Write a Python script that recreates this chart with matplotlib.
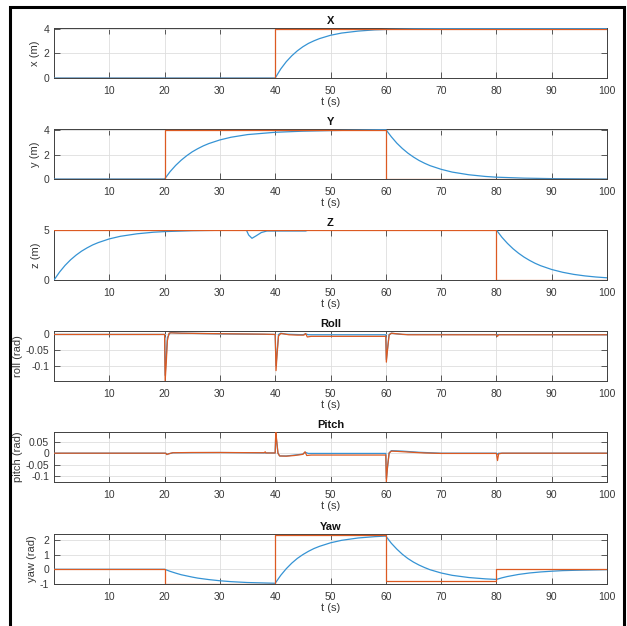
import matplotlib
matplotlib.use('Agg')
import matplotlib.pyplot as plt
import matplotlib.patches as patches

plt.rcParams['font.family'] = ['Liberation Sans', 'DejaVu Sans']

BLUE = '#3593d4'
ORANGE = '#dc5a22'
AX_COLOR = '#404040'

# --- reference (orange, step) signals: breakpoints ---
x_ref_t = [0, 40, 100]
x_ref_v = [0, 4, 4]
y_ref_t = [0, 20, 60, 100]
y_ref_v = [0, 4, 0, 0]
z_ref_t = [0, 80, 100]
z_ref_v = [5, 0, 0]
yaw_ref_t = [0, 20, 40, 60, 80, 100]
yaw_ref_v = [0, -1, 2.356, -0.785, 0, 0]

x_t = [0, 40, 41, 42, 43, 44, 45, 46, 47, 48, 50, 52, 55, 58, 60, 65, 70, 80, 100]
x_v = [0, 0, 0.73, 1.32, 1.80, 2.20, 2.53, 2.80, 3.01, 3.19, 3.46, 3.64, 3.80,
       3.90, 3.93, 3.98, 4.0, 4.01, 4.02]

y_t = [0, 20, 21, 22, 23, 24, 25, 26, 27, 28, 30, 32, 35, 40, 45, 50, 55, 60,
       61, 62, 63, 64, 65, 66, 67, 68, 70, 72, 75, 78, 80, 85, 90, 100]
y_v = [0, 0, 0.61, 1.12, 1.55, 1.92, 2.24, 2.50, 2.73, 2.92, 3.22, 3.44, 3.66,
       3.85, 3.94, 3.99, 4.03, 4.08,
       3.48, 2.95, 2.51, 2.13, 1.81, 1.53, 1.30, 1.10, 0.80, 0.57, 0.35, 0.21,
       0.15, 0.07, 0.03, 0.0]

z_t = [0, 1, 2, 3, 4, 5, 6, 7, 8, 10, 12, 15, 18, 20, 25, 30, 34.8, 35.2, 35.8,
       36.5, 37.5, 38.5, 45.5, 46, 80, 81, 82, 83, 84, 85, 86, 87, 88, 90, 92,
       94, 96, 98, 100]
z_v = [0, 0.79, 1.46, 2.02, 2.49, 2.89, 3.22, 3.51, 3.74, 4.11, 4.37, 4.62,
       4.78, 4.84, 4.93, 4.97, 4.98, 4.5, 4.17, 4.4, 4.75, 4.9, 4.9, 5.0, 5.0,
       4.27, 3.66, 3.13, 2.68, 2.29, 1.96, 1.67, 1.43, 1.05, 0.77, 0.56, 0.41,
       0.30, 0.22]

roll_ref_t = [0, 20, 20.1, 20.3, 20.5, 20.8, 21.2, 23, 27, 32, 38, 40, 40.15,
              40.35, 40.6, 41, 41.5, 42.5, 44, 45.2, 45.5, 45.8, 46.5, 60, 60.1,
              60.3, 60.6, 61, 62, 64, 70, 80, 80.2, 80.4, 100]
roll_ref_v = [0, 0, -0.148, -0.09, -0.02, 0.004, 0.005, 0.004, 0.003, 0.002,
              0.001, 0.0, -0.115, -0.06, -0.005, 0.003, 0.002, -0.001, -0.002,
              -0.002, 0.003, -0.008, -0.006, -0.006, -0.088, -0.05, -0.002,
              0.004, 0.002, -0.001, -0.001, -0.001, -0.006, -0.001, -0.001]
roll_t = [0, 20, 20.1, 20.5, 21, 23, 30, 40, 40.15, 40.6, 41, 42, 45, 45.5, 46,
          60, 60.1, 60.6, 61, 63, 100]
roll_v = [0, 0, -0.13, -0.01, 0.006, 0.004, 0.002, 0.0, -0.10, 0.0, 0.004,
          0.001, -0.001, 0.002, -0.001, -0.001, -0.08, 0.0, 0.004, 0.0, -0.001]

pitch_ref_t = [0, 20.2, 20.4, 20.8, 21.5, 25, 30, 38, 38.2, 38.3, 40, 40.1,
               40.25, 40.5, 40.8, 42, 43.5, 45, 45.4, 45.7, 46.5, 60, 60.1,
               60.3, 60.6, 61, 62, 64, 67, 70, 80, 80.2, 80.4, 81, 100]
pitch_ref_v = [0, 0, -0.006, -0.002, 0.002, 0.003, 0.003, 0.002, 0.006, 0.001,
               0.001, 0.092, 0.06, 0.0, -0.012, -0.013, -0.01, -0.005, 0.006,
               -0.01, -0.008, -0.008, -0.125, -0.06, 0.0, 0.009, 0.008, 0.005,
               0.001, -0.001, -0.001, -0.032, -0.003, 0.0, 0.0]
pitch_t = [0, 20.2, 20.4, 21.5, 30, 40, 40.1, 40.5, 40.8, 42, 45, 45.4, 46, 60,
           60.1, 60.6, 61, 63, 66, 70, 80, 80.2, 80.4, 100]
pitch_v = [0, 0, -0.005, 0.002, 0.003, 0.001, 0.085, 0.0, -0.012, -0.012,
           -0.004, 0.004, -0.001, -0.001, -0.11, 0.002, 0.011, 0.009, 0.004,
           0.0, 0.0, -0.005, 0.0, 0.0]

yaw_t = [0, 20, 21, 22, 23, 24, 25, 26, 27, 28, 30, 32, 35, 38, 40,
         41, 42, 43, 44, 45, 46, 47, 48, 50, 52, 55, 58, 60,
         61, 62, 63, 64, 65, 66, 67, 68, 70, 72, 75, 78, 80,
         81, 82, 83, 84, 85, 86, 88, 90, 92, 95, 100]
yaw_v = [0, 0, -0.14, -0.26, -0.37, -0.45, -0.53, -0.60, -0.65, -0.70, -0.78,
         -0.84, -0.90, -0.93, -0.95,
         -0.41, 0.04, 0.42, 0.74, 1.00, 1.22, 1.41, 1.56, 1.80, 1.97, 2.13,
         2.22, 2.26,
         1.77, 1.37, 1.02, 0.73, 0.49, 0.29, 0.12, -0.03, -0.25, -0.41, -0.56,
         -0.65, -0.69,
         -0.58, -0.49, -0.42, -0.35, -0.30, -0.25, -0.18, -0.13, -0.09, -0.06,
         -0.025]

x_ticks = [10, 20, 30, 40, 50, 60, 70, 80, 90, 100]

panels = [
    dict(title='X', ylabel='x (m)', t=x_t, v=x_v, rt=x_ref_t, rv=x_ref_v,
         step=True, ylim=(0, 4.05), yticks=[0, 2, 4], ylabels=['0', '2', '4']),
    dict(title='Y', ylabel='y (m)', t=y_t, v=y_v, rt=y_ref_t, rv=y_ref_v,
         step=True, ylim=(0, 4.12), yticks=[0, 2, 4], ylabels=['0', '2', '4']),
    dict(title='Z', ylabel='z (m)', t=z_t, v=z_v, rt=z_ref_t, rv=z_ref_v,
         step=True, ylim=(0, 5.0), yticks=[0, 5], ylabels=['0', '5']),
    dict(title='Roll', ylabel='roll (rad)', t=roll_t, v=roll_v, rt=roll_ref_t,
         rv=roll_ref_v, step=False, ylim=(-0.148, 0.011),
         yticks=[-0.1, -0.05, 0], ylabels=['-0.1', '-0.05', '0']),
    dict(title='Pitch', ylabel='pitch (rad)', t=pitch_t, v=pitch_v,
         rt=pitch_ref_t, rv=pitch_ref_v, step=False, ylim=(-0.125, 0.092),
         yticks=[-0.1, -0.05, 0, 0.05], ylabels=['-0.1', '-0.05', '0', '0.05']),
    dict(title='Yaw', ylabel='yaw (rad)', t=yaw_t, v=yaw_v, rt=yaw_ref_t,
         rv=yaw_ref_v, step=True, ylim=(-1, 2.4),
         yticks=[-1, 0, 1, 2], ylabels=['-1', '0', '1', '2']),
]

W, H = 627, 626
fig = plt.figure(figsize=(W / 100, H / 100), dpi=100)
fig.patch.set_facecolor('white')

tops = [28, 129, 230, 331, 432, 534]
ax_h = 50
left, width = 54, 553

for p, top in zip(panels, tops):
    ax = fig.add_axes([left / W, 1 - (top + ax_h) / H, width / W, ax_h / H])
    ax.plot(p['t'], p['v'], color=BLUE, lw=0.9, zorder=3)
    if p['step']:
        ax.plot(p['rt'], p['rv'], color=ORANGE, lw=0.9, drawstyle='steps-post', zorder=4)
    else:
        ax.plot(p['rt'], p['rv'], color=ORANGE, lw=0.9, zorder=4)
    ax.set_xlim(0, 100)
    ax.set_ylim(*p['ylim'])
    ax.set_xticks(x_ticks)
    ax.set_yticks(p['yticks'])
    ax.set_yticklabels(p['ylabels'])
    ax.grid(True, color='#dedede', lw=0.6, zorder=0)
    ax.set_axisbelow(True)
    ax.tick_params(direction='in', length=4, width=0.6, colors=AX_COLOR,
                   labelcolor='#383838', labelsize=7.5, pad=5.5,
                   top=True, right=True)
    ax.tick_params(axis='y', pad=3.5)
    for s in ax.spines.values():
        s.set_color(AX_COLOR)
        s.set_linewidth(0.7)
    ax.set_title(p['title'], fontsize=8, fontweight='bold', pad=3, color='#111111')
    ax.set_xlabel('t (s)', fontsize=8, labelpad=1, color='#383838')
    ax.set_ylabel(p['ylabel'], fontsize=8, labelpad=2, color='#383838')

# black frame around the figure
frame = patches.Rectangle((9.5 / W, -0.05), (624 - 9.5) / W, 1.05 - 7 / H,
                          transform=fig.transFigure, fill=False,
                          edgecolor='black', lw=2.2)
fig.patches.append(frame)

fig.savefig('out.png', dpi=100)
